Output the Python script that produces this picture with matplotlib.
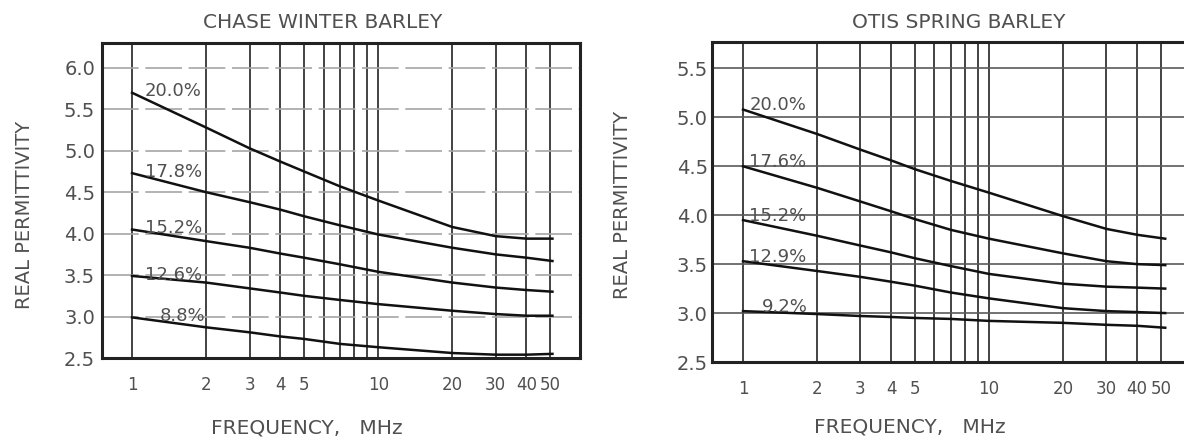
import matplotlib
matplotlib.use("Agg")
import matplotlib.pyplot as plt
from matplotlib.ticker import FixedLocator, FixedFormatter, NullLocator

# ---------------- data ----------------
freq_chase = [1, 2, 3, 4, 5, 7, 10, 20, 30, 40, 51]
chase_labels = ["20.0%", "17.8%", "15.2%", "12.6%", "8.8%"]
chase_200 = [5.70, 5.28, 5.03, 4.87, 4.75, 4.57, 4.40, 4.08, 3.97, 3.94, 3.94]
chase_178 = [4.73, 4.50, 4.38, 4.29, 4.21, 4.10, 3.99, 3.83, 3.75, 3.71, 3.67]
chase_152 = [4.05, 3.91, 3.83, 3.76, 3.71, 3.63, 3.54, 3.41, 3.35, 3.32, 3.30]
chase_126 = [3.49, 3.41, 3.34, 3.29, 3.25, 3.20, 3.15, 3.07, 3.03, 3.01, 3.01]
chase_88 = [2.99, 2.87, 2.81, 2.76, 2.73, 2.67, 2.63, 2.56, 2.54, 2.54, 2.55]

freq_otis = [1, 2, 3, 4, 5, 7, 10, 20, 30, 40, 52]
otis_labels = ["20.0%", "17.6%", "15.2%", "12.9%", "9.2%"]
otis_200 = [5.08, 4.83, 4.67, 4.56, 4.47, 4.35, 4.23, 3.99, 3.86, 3.80, 3.76]
otis_176 = [4.50, 4.28, 4.14, 4.04, 3.96, 3.85, 3.76, 3.61, 3.53, 3.50, 3.49]
otis_152 = [3.95, 3.79, 3.69, 3.62, 3.56, 3.48, 3.40, 3.30, 3.27, 3.26, 3.25]
otis_129 = [3.53, 3.43, 3.37, 3.32, 3.28, 3.21, 3.15, 3.05, 3.02, 3.01, 3.00]
otis_92 = [3.02, 2.99, 2.97, 2.96, 2.95, 2.94, 2.92, 2.90, 2.88, 2.87, 2.85]

grid_freqs = [1, 2, 3, 4, 5, 6, 7, 8, 9, 10, 20, 30, 40, 50]
tick_text = ["1", "2", "3", "4", "5", "", "", "", "", "10", "20", "30", "40", "50"]
y_ticks = [2.5, 3.0, 3.5, 4.0, 4.5, 5.0, 5.5, 6.0]

TXT = "#505050"
LINE = "#111111"

fig = plt.figure(figsize=(11.84, 4.42), dpi=100)
W, H = 1184.0, 442.0


def ax_at(x0, x1, ytop, ybot):
    return fig.add_axes([x0 / W, 1 - ybot / H, (x1 - x0) / W, (ybot - ytop) / H])


def setup(ax, xlim, ylim, yt, hstyle, hcolor, ypad):
    ax.set_xscale("log")
    ax.set_xlim(*xlim)
    ax.set_ylim(*ylim)
    ax.xaxis.set_major_locator(FixedLocator(grid_freqs))
    ax.xaxis.set_major_formatter(FixedFormatter(tick_text))
    ax.xaxis.set_minor_locator(NullLocator())
    ax.set_yticks(yt)
    ax.set_yticklabels([f"{v:.1f}" for v in yt])
    ax.tick_params(axis="x", length=0, pad=13, labelsize=12, labelcolor=TXT)
    ax.tick_params(axis="y", length=0, pad=ypad, labelsize=14, labelcolor=TXT)
    for f in grid_freqs:
        ax.axvline(f, color="#222222", lw=1.2, zorder=1)
    for v in yt:
        ax.axhline(v, color=hcolor, lw=1.2, ls=hstyle, zorder=1)
    for s in ax.spines.values():
        s.set_linewidth(2.2)
        s.set_color("#222222")


# ---------------- left chart ----------------
axL = ax_at(102, 580, 43, 358)
setup(axL, (0.755, 66.0), (2.5, 6.30), y_ticks, (0, (22, 4)), "#a5a5a5", 5)
for lab, ser in zip(chase_labels, [chase_200, chase_178, chase_152, chase_126, chase_88]):
    axL.plot(freq_chase, ser, color=LINE, lw=1.8, zorder=3)
    xl = 1.30 if lab == "8.8%" else 1.13
    axL.annotate(lab, (xl, ser[0]), xytext=(0, 1), textcoords="offset points",
                 ha="left", va="center", fontsize=13, color=TXT, zorder=4)

# ---------------- right chart ----------------
axR = ax_at(712, 1200, 42, 362)
setup(axR, (0.748, 72.0), (2.5, 5.77), y_ticks[:-1], "-", "#5a5a5a", 3)
for lab, ser in zip(otis_labels, [otis_200, otis_176, otis_152, otis_129, otis_92]):
    axR.plot(freq_otis, ser, color=LINE, lw=1.8, zorder=3)
    xl = 1.19 if lab == "9.2%" else 1.06
    axR.annotate(lab, (xl, ser[0]), xytext=(0, 3), textcoords="offset points",
                 ha="left", va="center", fontsize=13, color=TXT, zorder=4)

# ---------------- titles & labels ----------------
def ftext(x, y, s, **kw):
    fig.text(x / W, 1 - y / H, s, ha="center", va="center", color=TXT, **kw)

ftext(323, 23, "CHASE WINTER BARLEY", fontsize=14.5)
ftext(959, 23, "OTIS SPRING BARLEY", fontsize=14.5)
ftext(307, 428, "FREQUENCY,   MHz", fontsize=14.5)
ftext(910, 427, "FREQUENCY,   MHz", fontsize=14.5)
ftext(25, 215, "REAL PERMITTIVITY", fontsize=14, rotation=90)
ftext(623, 205, "REAL PERMITTIVITY", fontsize=14, rotation=90)

fig.savefig("out.png", dpi=100, facecolor="white")
